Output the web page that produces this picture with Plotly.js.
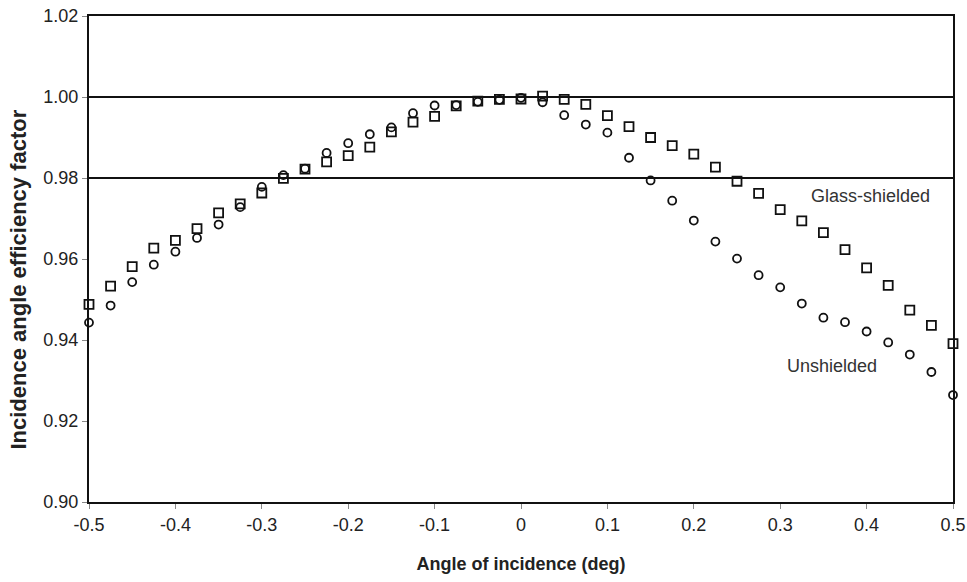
<!DOCTYPE html>
<html>
<head>
<meta charset="utf-8">
<script src="https://cdn.plot.ly/plotly-3.0.1.min.js"></script>
<style>html,body{margin:0;padding:0;background:#fff;}#chart{width:967px;height:582px;}</style>
</head>
<body>
<div id="chart"></div>
<script>
const angles = [-0.5,-0.475,-0.45,-0.425,-0.4,-0.375,-0.35,-0.325,-0.3,-0.275,-0.25,-0.225,-0.2,-0.175,-0.15,-0.125,-0.1,-0.075,-0.05,-0.025,0,0.025,0.05,0.075,0.1,0.125,0.15,0.175,0.2,0.225,0.25,0.275,0.3,0.325,0.35,0.375,0.4,0.425,0.45,0.475,0.5];
const glassShielded = [0.9488,0.9533,0.9581,0.9627,0.9646,0.9675,0.9714,0.9736,0.9763,0.9799,0.9822,0.9840,0.9855,0.9876,0.9914,0.9938,0.9952,0.9978,0.9990,0.9994,0.9995,1.0002,0.9994,0.9982,0.9954,0.9927,0.9900,0.9880,0.9859,0.9827,0.9792,0.9762,0.9722,0.9694,0.9665,0.9623,0.9578,0.9535,0.9474,0.9436,0.9391];
const unshielded = [0.9443,0.9485,0.9543,0.9586,0.9618,0.9652,0.9685,0.9728,0.9778,0.9807,0.9823,0.9862,0.9886,0.9908,0.9925,0.9960,0.9979,0.9980,0.9988,0.9993,0.9998,0.9987,0.9955,0.9932,0.9912,0.9850,0.9794,0.9744,0.9695,0.9643,0.9601,0.9560,0.9530,0.9490,0.9455,0.9444,0.9421,0.9394,0.9364,0.9321,0.9264];
const referenceLines = [1.00, 0.98];
const xTicks = [-0.5,-0.4,-0.3,-0.2,-0.1,0,0.1,0.2,0.3,0.4,0.5];
const xTickText = ['-0.5','-0.4','-0.3','-0.2','-0.1','0','0.1','0.2','0.3','0.4','0.5'];
const yTicks = [0.90,0.92,0.94,0.96,0.98,1.00,1.02];
const yTickText = ['0.90','0.92','0.94','0.96','0.98','1.00','1.02'];
const seriesLabels = ['Glass-shielded','Unshielded'];
const labelPos = [[0.404, 0.9755],[0.36, 0.9337]];
const xTitle = 'Angle of incidence (deg)';
const yTitle = 'Incidence angle efficiency factor';

const FONT = 'Liberation Sans, Arial, sans-serif';

const traces = [
  {x: angles, y: glassShielded, mode: 'markers', type: 'scatter', name: seriesLabels[0], cliponaxis: false,
   marker: {symbol: 'square-open', size: 9, color: '#111', line: {width: 1.8, color: '#111'}}},
  {x: angles, y: unshielded, mode: 'markers', type: 'scatter', name: seriesLabels[1], cliponaxis: false,
   marker: {symbol: 'circle-open', size: 8, color: '#111', line: {width: 1.8, color: '#111'}}}
];

const shapes = referenceLines.map(v => ({type: 'line', xref: 'paper', x0: 0, x1: 1, yref: 'y', y0: v, y1: v,
  line: {color: '#111', width: 1.8}, layer: 'below'}));

const annotations = seriesLabels.map((t, i) => ({x: labelPos[i][0], y: labelPos[i][1], xref: 'x', yref: 'y',
  text: t, showarrow: false, xanchor: 'center', yanchor: 'middle', font: {family: FONT, size: 18, color: '#333'}}));
annotations.push({xref: 'paper', yref: 'paper', x: -0.082, y: 0.458, xanchor: 'center', yanchor: 'middle',
  textangle: -90, showarrow: false, text: '<b>' + yTitle + '</b>', font: {family: FONT, size: 22, color: '#222'}});

const layout = {
  width: 967, height: 582,
  margin: {l: 89, r: 14, t: 16, b: 80, pad: 0},
  paper_bgcolor: '#fff', plot_bgcolor: '#fff',
  showlegend: false,
  font: {family: FONT, size: 18, color: '#222'},
  xaxis: {range: [-0.5, 0.5], tickmode: 'array', tickvals: xTicks, ticktext: xTickText,
    showgrid: false, zeroline: false, showline: true, linecolor: '#111', linewidth: 2, mirror: true,
    ticks: 'outside', ticklen: 5, tickwidth: 1, tickcolor: '#888',
    tickfont: {family: FONT, size: 18, color: '#222'},
    title: {text: '<b>' + xTitle + '</b>', font: {family: FONT, size: 18, color: '#222'}, standoff: 24}},
  yaxis: {range: [0.90, 1.02], tickmode: 'array', tickvals: yTicks, ticktext: yTickText,
    showgrid: false, zeroline: false, showline: true, linecolor: '#111', linewidth: 2, mirror: true,
    ticks: 'outside', ticklen: 5, tickwidth: 1, tickcolor: '#888',
    tickfont: {family: FONT, size: 18, color: '#222'}},
  shapes: shapes,
  annotations: annotations
};

Plotly.newPlot('chart', traces, layout, {displayModeBar: false, staticPlot: true});
</script>
</body>
</html>
